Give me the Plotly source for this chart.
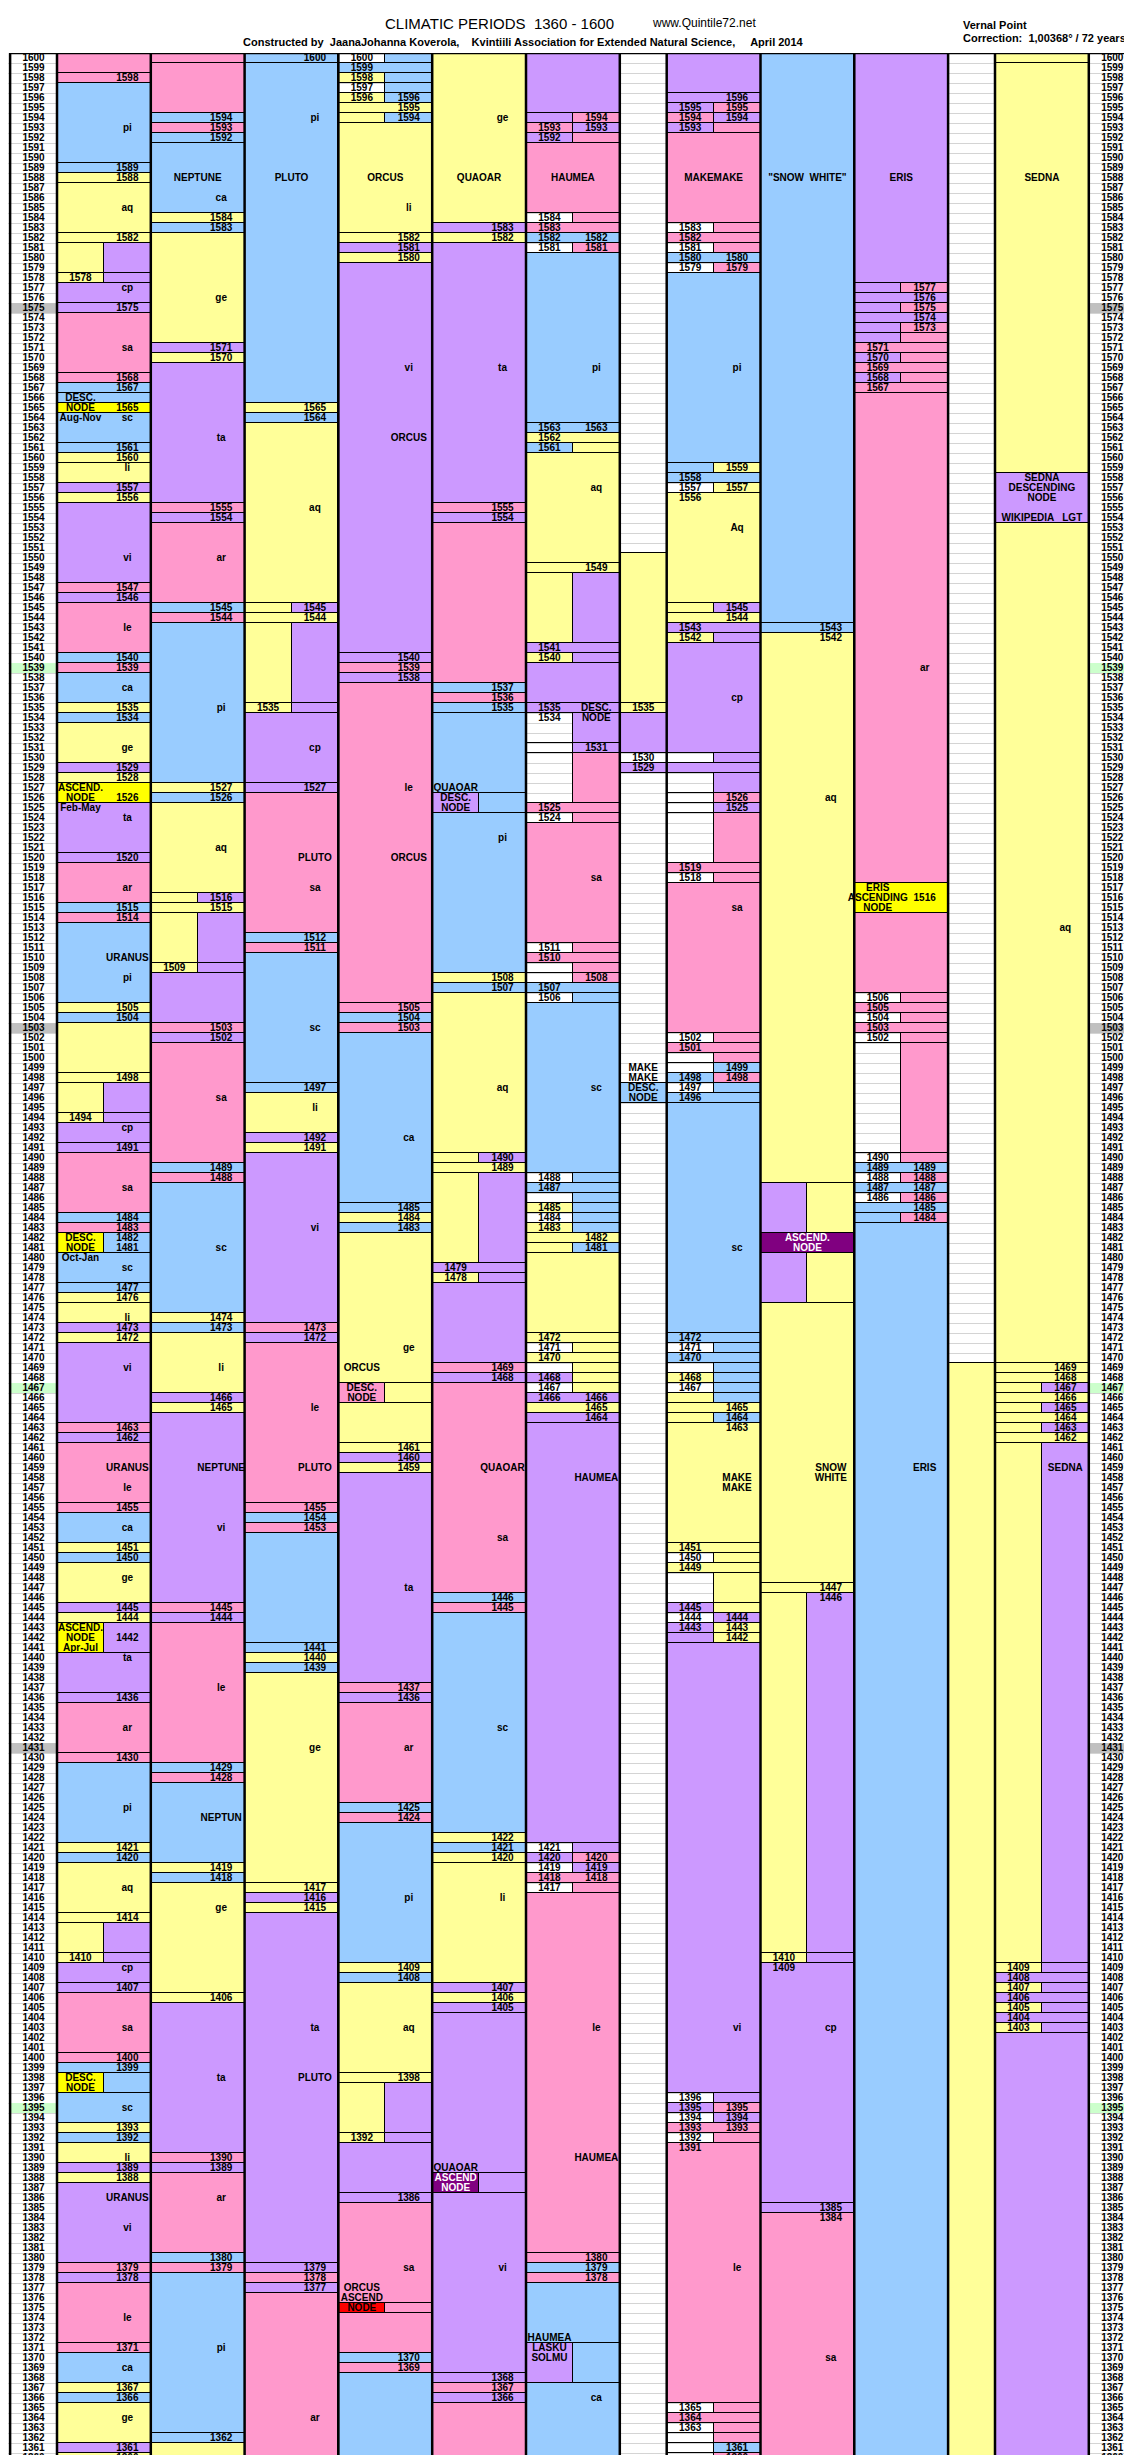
import plotly.graph_objects as go

# =========================
# COLOURS (sign element colours of the original sheet)
# =========================
FILL = {
    "P": "#FF99CC",  # fire
    "Y": "#FFFF99",  # air
    "B": "#99CCFF",  # water
    "V": "#CC99FF",  # earth
    "G": "#FFFF00",  # node box
    "M": "#800080",  # ascending node (dark)
    "R": "#FF0000",  # ascending node (red)
    "W": "rgba(0,0,0,0)",
}

YEARS = list(range(1360, 1601))
GREY_YEARS = [1575, 1503, 1431]
GREEN_YEARS = [1539, 1467, 1395]

# =========================
# DATA: runs (top year, colour left half + right half), going down in time
# =========================
URANUS = [
    (1600, "PP"), (1598, "PP"), (1597, "BB"), (1589, "BB"), (1588, "YY"), (1587, "YY"), (1582, "YY"), (1581, "YV"),
    (1578, "YV"), (1577, "VV"), (1575, "VV"), (1574, "PP"), (1568, "PP"), (1567, "BB"), (1566, "BB"), (1565, "GG"),
    (1564, "BB"), (1561, "BB"), (1560, "YY"), (1559, "YY"), (1557, "VV"), (1556, "YY"), (1555, "VV"), (1547, "PP"),
    (1546, "VV"), (1545, "PP"), (1540, "BB"), (1539, "PP"), (1538, "BB"), (1535, "YY"), (1534, "BB"), (1533, "YY"),
    (1529, "VV"), (1528, "YY"), (1527, "GG"), (1525, "VV"), (1520, "VV"), (1519, "PP"), (1515, "BB"), (1514, "PP"),
    (1513, "BB"), (1505, "YY"), (1504, "BB"), (1503, "YY"), (1498, "YY"), (1497, "YV"), (1494, "YV"), (1493, "VV"),
    (1491, "VV"), (1490, "PP"), (1484, "BB"), (1483, "PP"), (1482, "GB"), (1480, "BB"), (1477, "BB"), (1476, "YY"),
    (1475, "YY"), (1473, "VV"), (1472, "YY"), (1471, "VV"), (1463, "PP"), (1462, "VV"), (1461, "PP"), (1455, "PP"),
    (1454, "BB"), (1451, "YY"), (1450, "BB"), (1449, "YY"), (1445, "VV"), (1444, "YY"), (1443, "GV"), (1440, "VV"),
    (1436, "VV"), (1435, "PP"), (1430, "PP"), (1429, "BB"), (1421, "YY"), (1420, "BB"), (1419, "YY"), (1414, "YY"),
    (1413, "YV"), (1410, "YV"), (1409, "VV"), (1407, "VV"), (1406, "PP"), (1400, "PP"), (1399, "BB"), (1398, "GB"),
    (1396, "BB"), (1393, "YY"), (1392, "BB"), (1391, "YY"), (1389, "VV"), (1388, "YY"), (1387, "VV"), (1379, "PP"),
    (1378, "VV"), (1377, "PP"), (1371, "PP"), (1370, "BB"), (1367, "YY"), (1366, "BB"), (1365, "YY"), (1361, "VV"),
    (1360, "YY"),
]
URANUS_LABELS = ("1598R 1589R 1588R 1582R 1578L 1575R 1568R 1567R 1565R 1561R 1560R 1557R 1556R 1547R 1546R "
                 "1540R 1539R 1535R 1534R 1529R 1528R 1526R 1520R 1515R 1514R 1505R 1504R 1498R 1494L 1491R "
                 "1484R 1483R 1482R 1481R 1477R 1476R 1473R 1472R 1463R 1462R 1455R 1451R 1450R 1445R 1444R "
                 "1442R 1436R 1430R 1421R 1420R 1414R 1410L 1407R 1400R 1399R 1393R 1392R 1389R 1388R 1379R "
                 "1378R 1371R 1367R 1366R 1361R 1360R").split()
URANUS_TEXT = [
    (1593, "R", "pi"), (1585, "R", "aq"), (1577, "R", "cp"), (1571, "R", "sa"), (1566, "L", "DESC."),
    (1565, "L", "NODE"), (1564, "L", "Aug-Nov"), (1564, "R", "sc"), (1559, "R", "li"), (1550, "R", "vi"),
    (1543, "R", "le"), (1537, "R", "ca"), (1531, "R", "ge"), (1527, "L", "ASCEND."), (1526, "L", "NODE"),
    (1525, "L", "Feb-May"), (1524, "R", "ta"), (1517, "R", "ar"), (1510, "R", "URANUS"), (1508, "R", "pi"),
    (1493, "R", "cp"), (1487, "R", "sa"), (1482, "L", "DESC."), (1481, "L", "NODE"), (1480, "L", "Oct-Jan"),
    (1479, "R", "sc"), (1474, "R", "li"), (1469, "R", "vi"), (1459, "R", "URANUS"), (1457, "R", "le"),
    (1453, "R", "ca"), (1448, "R", "ge"), (1443, "L", "ASCEND."), (1442, "L", "NODE"), (1441, "L", "Apr-Jul"),
    (1440, "R", "ta"), (1433, "R", "ar"), (1425, "R", "pi"), (1417, "R", "aq"), (1409, "R", "cp"),
    (1403, "R", "sa"), (1398, "L", "DESC."), (1397, "L", "NODE"), (1395, "R", "sc"), (1390, "R", "li"),
    (1386, "R", "URANUS"), (1383, "R", "vi"), (1374, "R", "le"), (1369, "R", "ca"), (1364, "R", "ge"),
]

NEPTUNE = [
    (1600, "PP"), (1599, "PP"), (1594, "BB"), (1593, "PP"), (1592, "BB"), (1591, "BB"), (1584, "YY"), (1583, "BB"),
    (1582, "YY"), (1571, "VV"), (1570, "YY"), (1569, "VV"), (1555, "PP"), (1554, "VV"), (1553, "PP"), (1545, "BB"),
    (1544, "PP"), (1543, "BB"), (1527, "YY"), (1526, "BB"), (1525, "YY"), (1516, "YV"), (1515, "YY"), (1514, "YV"),
    (1509, "YV"), (1508, "VV"), (1503, "PP"), (1502, "VV"), (1501, "PP"), (1489, "BB"), (1488, "PP"), (1487, "BB"),
    (1474, "YY"), (1473, "BB"), (1472, "YY"), (1466, "VV"), (1465, "YY"), (1464, "VV"), (1445, "PP"), (1444, "VV"),
    (1443, "PP"), (1429, "BB"), (1428, "PP"), (1427, "BB"), (1419, "YY"), (1418, "BB"), (1417, "YY"), (1406, "YY"),
    (1405, "VV"), (1390, "PP"), (1389, "VV"), (1388, "PP"), (1380, "BB"), (1379, "PP"), (1378, "BB"), (1362, "BB"),
    (1361, "YY"),
]
NEPTUNE_LABELS = ("1594R 1593R 1592R 1584R 1583R 1571R 1570R 1555R 1554R 1545R 1544R 1527R 1526R 1516R 1515R "
                  "1509L 1503R 1502R 1489R 1488R 1474R 1473R 1466R 1465R 1445R 1444R 1429R 1428R 1419R 1418R "
                  "1406R 1390R 1389R 1380R 1379R 1362R").split()
NEPTUNE_TEXT = [
    (1588, "C", "NEPTUNE"), (1586, "R", "ca"), (1576, "R", "ge"), (1562, "R", "ta"), (1550, "R", "ar"),
    (1535, "R", "pi"), (1521, "R", "aq"), (1496, "R", "sa"), (1481, "R", "sc"), (1469, "R", "li"),
    (1459, "R", "NEPTUNE"), (1453, "R", "vi"), (1437, "R", "le"), (1424, "R", "NEPTUN"), (1415, "R", "ge"),
    (1398, "R", "ta"), (1386, "R", "ar"), (1371, "R", "pi"),
]

PLUTO = [
    (1600, "BB"), (1599, "BB"), (1565, "YY"), (1564, "BB"), (1563, "YY"), (1545, "YV"), (1544, "YY"), (1543, "YV"),
    (1535, "YV"), (1534, "VV"), (1527, "VV"), (1526, "PP"), (1512, "BB"), (1511, "PP"), (1510, "BB"), (1497, "BB"),
    (1496, "YY"), (1492, "VV"), (1491, "YY"), (1490, "VV"), (1473, "PP"), (1472, "VV"), (1471, "PP"), (1455, "PP"),
    (1454, "BB"), (1453, "PP"), (1452, "BB"), (1441, "BB"), (1440, "YY"), (1439, "BB"), (1438, "YY"), (1417, "YY"),
    (1416, "VV"), (1415, "YY"), (1414, "VV"), (1379, "VV"), (1378, "PP"), (1377, "VV"), (1376, "PP"),
]
PLUTO_LABELS = ("1600R 1565R 1564R 1545R 1544R 1535L 1527R 1512R 1511R 1497R 1492R 1491R 1473R 1472R 1455R "
                "1454R 1453R 1441R 1440R 1439R 1417R 1416R 1415R 1379R 1378R 1377R").split()
PLUTO_TEXT = [
    (1588, "C", "PLUTO"), (1594, "R", "pi"), (1555, "R", "aq"), (1531, "R", "cp"), (1520, "R", "PLUTO"),
    (1517, "R", "sa"), (1503, "R", "sc"), (1495, "R", "li"), (1483, "R", "vi"), (1465, "R", "le"),
    (1459, "R", "PLUTO"), (1431, "R", "ge"), (1403, "R", "ta"), (1398, "R", "PLUTO"), (1364, "R", "ar"),
]

ORCUS = [
    (1600, "WB"), (1599, "BB"), (1598, "YB"), (1597, "WB"), (1596, "YB"), (1595, "YY"), (1594, "YB"), (1593, "YY"),
    (1582, "YY"), (1581, "VV"), (1580, "YY"), (1579, "VV"), (1540, "VV"), (1539, "PP"), (1538, "VV"), (1537, "PP"),
    (1505, "PP"), (1504, "BB"), (1503, "PP"), (1502, "BB"), (1485, "BB"), (1484, "YY"), (1483, "BB"), (1482, "YY"),
    (1467, "PY"), (1465, "YY"), (1461, "YY"), (1460, "VV"), (1459, "YY"), (1458, "VV"), (1437, "PP"), (1436, "VV"),
    (1435, "PP"), (1425, "BB"), (1424, "PP"), (1423, "BB"), (1409, "YY"), (1408, "BB"), (1407, "YY"), (1398, "YY"),
    (1397, "YV"), (1392, "YV"), (1391, "VV"), (1386, "VV"), (1385, "PP"), (1375, "RP"), (1374, "PP"), (1370, "BB"),
    (1369, "PP"), (1368, "BB"),
]
ORCUS_LABELS = ("1600L 1599L 1598L 1597L 1596L 1596R 1595R 1594R 1582R 1581R 1580R 1540R 1539R 1538R 1505R "
                "1504R 1503R 1485R 1484R 1483R 1461R 1460R 1459R 1437R 1436R 1425R 1424R 1409R 1408R 1398R "
                "1392L 1386R 1370R 1369R").split()
ORCUS_TEXT = [
    (1588, "C", "ORCUS"), (1585, "R", "li"), (1569, "R", "vi"), (1562, "R", "ORCUS"), (1527, "R", "le"),
    (1520, "R", "ORCUS"), (1492, "R", "ca"), (1471, "R", "ge"), (1469, "L", "ORCUS"), (1467, "L", "DESC."),
    (1466, "L", "NODE"), (1447, "R", "ta"), (1431, "R", "ar"), (1416, "R", "pi"), (1403, "R", "aq"),
    (1379, "R", "sa"), (1377, "L", "ORCUS"), (1376, "L", "ASCEND"), (1375, "L", "NODE"),
]

QUAOAR = [
    (1600, "YY"), (1583, "VV"), (1582, "YY"), (1581, "VV"), (1555, "PP"), (1554, "VV"), (1553, "PP"), (1537, "BB"),
    (1536, "PP"), (1535, "BB"), (1534, "BB"), (1526, "VB"), (1524, "BB"), (1508, "YY"), (1507, "BB"), (1506, "YY"),
    (1490, "YV"), (1489, "YY"), (1488, "YV"), (1479, "VV"), (1478, "YV"), (1477, "VV"), (1469, "PP"), (1468, "VV"),
    (1467, "PP"), (1446, "BB"), (1445, "PP"), (1444, "BB"), (1422, "YY"), (1421, "BB"), (1420, "YY"), (1419, "YY"),
    (1407, "VV"), (1406, "YY"), (1405, "VV"), (1404, "VV"), (1388, "MV"), (1386, "VV"), (1368, "VV"), (1367, "PP"),
    (1366, "VV"), (1365, "PP"),
]
QUAOAR_LABELS = ("1583R 1582R 1555R 1554R 1537R 1536R 1535R 1508R 1507R 1490R 1489R 1479L 1478L 1469R 1468R "
                 "1446R 1445R 1422R 1421R 1420R 1407R 1406R 1405R 1368R 1367R 1366R").split()
QUAOAR_TEXT = [
    (1588, "C", "QUAOAR"), (1594, "R", "ge"), (1569, "R", "ta"), (1522, "R", "pi"), (1527, "L", "QUAOAR"),
    (1526, "L", "DESC."), (1525, "L", "NODE"), (1497, "R", "aq"), (1459, "R", "QUAOAR"), (1452, "R", "sa"),
    (1433, "R", "sc"), (1416, "R", "li"), (1389, "L", "QUAOAR"), (1388, "L", "ASCEND"), (1387, "L", "NODE"),
    (1379, "R", "vi"),
]

HAUMEA = [
    (1600, "VV"), (1594, "VP"), (1593, "PV"), (1592, "VP"), (1591, "PP"), (1584, "WP"), (1583, "PP"), (1582, "BB"),
    (1581, "WP"), (1580, "BB"), (1563, "BB"), (1562, "YY"), (1561, "BY"), (1560, "YY"), (1549, "YY"), (1548, "YV"),
    (1541, "VV"), (1540, "YV"), (1539, "VV"), (1535, "VV"), (1534, "WV"), (1531, "WV"), (1530, "WP"), (1525, "PP"),
    (1524, "WP"), (1523, "PP"), (1511, "WP"), (1510, "PP"), (1509, "WP"), (1508, "WP"), (1507, "BB"), (1506, "WB"),
    (1505, "BB"), (1488, "WB"), (1487, "BB"), (1486, "WB"), (1485, "YB"), (1484, "WB"), (1483, "YB"), (1482, "YY"),
    (1481, "YB"), (1480, "YY"), (1472, "YY"), (1471, "WY"), (1470, "YY"), (1469, "WY"), (1468, "VY"), (1467, "WY"),
    (1466, "VV"), (1465, "YY"), (1464, "VV"), (1463, "VV"), (1421, "WV"), (1420, "VP"), (1419, "WV"), (1418, "PP"),
    (1417, "WP"), (1416, "PP"), (1380, "PP"), (1379, "BB"), (1378, "PP"), (1377, "BB"), (1371, "VB"), (1367, "BB"),
]
HAUMEA_LABELS = ("1594R 1593L 1593R 1592L 1584L 1583L 1582L 1582R 1581L 1581R 1563L 1563R 1562L 1561L 1549R "
                 "1541L 1540L 1535L 1534L 1531R 1525L 1524L 1511L 1510L 1508R 1507L 1506L 1488L 1487L 1485L "
                 "1484L 1483L 1482R 1481R 1472L 1471L 1470L 1468L 1467L 1466L 1466R 1465R 1464R 1421L 1420L "
                 "1420R 1419L 1419R 1418L 1418R 1417L 1380R 1379R 1378R").split()
HAUMEA_TEXT = [
    (1588, "C", "HAUMEA"), (1569, "R", "pi"), (1557, "R", "aq"), (1535, "R", "DESC."), (1534, "R", "NODE"),
    (1518, "R", "sa"), (1497, "R", "sc"), (1458, "R", "HAUMEA"), (1403, "R", "le"), (1390, "R", "HAUMEA"),
    (1372, "L", "HAUMEA"), (1371, "L", "LASKU"), (1370, "L", "SOLMU"), (1366, "R", "ca"),
]

BLANK1 = [(1600, "W"), (1550, "Y"), (1535, "Y"), (1534, "V"), (1530, "W"), (1529, "V"), (1528, "W"),
          (1497, "B"), (1495, "W")]
BLANK1_LABELS = ["1535L", "1530L", "1529L"]
BLANK1_TEXT = [(1499, "L", "MAKE"), (1498, "L", "MAKE"), (1497, "L", "DESC."), (1496, "L", "NODE")]

MAKEMAKE = [
    (1600, "VV"), (1596, "VV"), (1595, "VP"), (1594, "PV"), (1593, "VP"), (1592, "PP"), (1583, "WP"), (1582, "PP"),
    (1581, "WP"), (1580, "BB"), (1579, "WP"), (1578, "BB"), (1559, "BY"), (1558, "BB"), (1557, "WY"), (1556, "YY"),
    (1545, "YV"), (1544, "YY"), (1543, "VV"), (1542, "YV"), (1541, "VV"), (1530, "WV"), (1529, "VV"), (1528, "WV"),
    (1526, "WP"), (1525, "WV"), (1524, "WP"), (1519, "PP"), (1518, "WP"), (1517, "PP"), (1502, "WP"), (1501, "PP"),
    (1500, "WP"), (1499, "WB"), (1498, "BP"), (1497, "WB"), (1496, "BB"), (1495, "BB"), (1472, "BB"), (1471, "WB"),
    (1470, "BB"), (1469, "WB"), (1468, "YB"), (1467, "WB"), (1466, "YB"), (1465, "YY"), (1464, "YB"), (1463, "YY"),
    (1451, "YY"), (1450, "WY"), (1449, "YY"), (1448, "WY"), (1445, "VY"), (1444, "WV"), (1443, "VY"), (1442, "VY"),
    (1441, "VV"), (1396, "WV"), (1395, "VP"), (1394, "WV"), (1393, "PP"), (1392, "WP"), (1391, "PP"), (1365, "WP"),
    (1364, "PP"), (1363, "WP"), (1362, "WP"), (1361, "WB"), (1360, "WP"),
]
MAKEMAKE_LABELS = ("1596R 1595L 1595R 1594L 1594R 1593L 1583L 1582L 1581L 1580L 1580R 1579L 1579R 1559R 1558L "
                   "1557L 1557R 1556L 1545R 1544R 1543L 1542L 1526R 1525R 1519L 1518L 1502L 1501L 1499R 1498L "
                   "1498R 1497L 1496L 1472L 1471L 1470L 1468L 1467L 1465R 1464R 1463R 1451L 1450L 1449L 1445L "
                   "1444L 1444R 1443L 1443R 1442R 1396L 1395L 1395R 1394L 1394R 1393L 1393R 1392L 1391L 1365L "
                   "1364L 1363L 1361R 1360R").split()
MAKEMAKE_TEXT = [
    (1588, "C", "MAKEMAKE"), (1569, "R", "pi"), (1553, "R", "Aq"), (1536, "R", "cp"), (1515, "R", "sa"),
    (1481, "R", "sc"), (1458, "R", "MAKE"), (1457, "R", "MAKE"), (1403, "R", "vi"), (1379, "R", "le"),
]

SNOW_WHITE = [
    (1600, "BB"), (1543, "BB"), (1542, "YY"), (1487, "VY"), (1482, "MM"), (1480, "VY"), (1475, "YY"),
    (1447, "YY"), (1446, "YV"), (1410, "YV"), (1409, "VV"), (1385, "VV"), (1384, "PP"),
]
SNOW_WHITE_LABELS = "1543R 1542R 1447R 1446R 1410L 1409L 1385R 1384R".split()
SNOW_WHITE_TEXT = [
    (1588, "C", "\"SNOW  WHITE\""), (1526, "R", "aq"), (1482, "C", "ASCEND."), (1481, "C", "NODE"),
    (1459, "R", "SNOW"), (1458, "R", "WHITE"), (1403, "R", "cp"), (1370, "R", "sa"),
]

ERIS = [
    (1600, "VV"), (1577, "VP"), (1576, "VV"), (1575, "VP"), (1574, "VV"), (1573, "VP"), (1572, "VP"), (1571, "PP"),
    (1570, "VP"), (1569, "PP"), (1568, "VP"), (1567, "PP"), (1566, "PP"), (1517, "GG"), (1514, "PP"), (1506, "WP"),
    (1505, "PP"), (1504, "WP"), (1503, "PP"), (1502, "WP"), (1501, "WP"), (1490, "WP"), (1489, "BB"), (1488, "WP"),
    (1487, "BB"), (1486, "WP"), (1485, "BB"), (1484, "BP"), (1483, "BB"),
]
ERIS_LABELS = ("1577R 1576R 1575R 1574R 1573R 1571L 1570L 1569L 1568L 1567L 1516R 1506L 1505L 1504L 1503L "
               "1502L 1490L 1489L 1489R 1488L 1488R 1487L 1487R 1486L 1486R 1485R 1484R").split()
ERIS_TEXT = [
    (1588, "C", "ERIS"), (1539, "R", "ar"), (1517, "L", "ERIS"), (1516, "L", "ASCENDING"), (1515, "L", "NODE"),
    (1459, "R", "ERIS"),
]

BLANK2 = [(1600, "W"), (1469, "Y")]

SEDNA = [
    (1600, "YY"), (1599, "YY"), (1558, "VV"), (1553, "YY"), (1469, "YY"), (1468, "YY"), (1467, "YV"), (1466, "YY"),
    (1465, "YV"), (1464, "YY"), (1463, "YV"), (1462, "YY"), (1461, "YV"), (1409, "YV"), (1408, "VV"), (1407, "YV"),
    (1406, "VV"), (1405, "YV"), (1404, "VV"), (1403, "YV"), (1402, "VV"),
]
SEDNA_LABELS = ("1469R 1468R 1467R 1466R 1465R 1464R 1463R 1462R 1409L 1408L 1407L 1406L 1405L 1404L "
                "1403L").split()
SEDNA_TEXT = [
    (1588, "C", "SEDNA"), (1558, "C", "SEDNA"), (1557, "C", "DESCENDING"), (1556, "C", "NODE"),
    (1554, "C", "WIKIPEDIA   LGT"), (1513, "R", "aq"), (1459, "R", "SEDNA"),
]

# column index of the left half of each block (half columns, each one unit wide)
BLOCKS = [
    (0, URANUS, URANUS_LABELS, URANUS_TEXT),
    (2, NEPTUNE, NEPTUNE_LABELS, NEPTUNE_TEXT),
    (4, PLUTO, PLUTO_LABELS, PLUTO_TEXT),
    (6, ORCUS, ORCUS_LABELS, ORCUS_TEXT),
    (8, QUAOAR, QUAOAR_LABELS, QUAOAR_TEXT),
    (10, HAUMEA, HAUMEA_LABELS, HAUMEA_TEXT),
    (12, BLANK1, BLANK1_LABELS, BLANK1_TEXT),
    (13, MAKEMAKE, MAKEMAKE_LABELS, MAKEMAKE_TEXT),
    (15, SNOW_WHITE, SNOW_WHITE_LABELS, SNOW_WHITE_TEXT),
    (17, ERIS, ERIS_LABELS, ERIS_TEXT),
    (19, BLANK2, [], []),
    (20, SEDNA, SEDNA_LABELS, SEDNA_TEXT),
]
SEPARATORS = [-1.5, -0.5, 1.5, 3.5, 5.5, 7.5, 9.5, 11.5, 12.5, 14.5, 16.5, 18.5, 19.5, 21.5, 22.5]

# =========================
# BUILD
# =========================
bars = {c: {"x": [], "w": [], "base": [], "h": []} for c in FILL}


def add_bar(code, x, w, bottom, top):
    b = bars[code]
    b["x"].append(x)
    b["w"].append(w)
    b["base"].append(bottom - 0.5)
    b["h"].append(top - bottom + 1)


lab_x, lab_y, lab_t = [], [], []
txt_x, txt_y, txt_t, txt_c = [], [], [], []

for col, runs, labels, texts in BLOCKS:
    for i, (top, code) in enumerate(runs):
        bottom = runs[i + 1][0] + 1 if i + 1 < len(runs) else 1360
        if len(code) == 1:
            add_bar(code, col, 1, bottom, top)
        elif code[0] == code[1]:
            add_bar(code[0], col + 0.5, 2, bottom, top)
        else:
            add_bar(code[0], col, 1, bottom, top)
            add_bar(code[1], col + 1, 1, bottom, top)
    for lab in labels:
        lab_x.append(col + (1 if lab[-1] == "R" else 0))
        lab_y.append(int(lab[:-1]))
        lab_t.append(lab[:-1])
    for year, pos, t in texts:
        txt_x.append({"L": col, "R": col + 1, "C": col + 0.5}[pos])
        txt_y.append(year)
        txt_t.append(t)
        txt_c.append("white" if t in ("ASCEND.", "ASCEND") and col in (8, 15) or
                     (t == "NODE" and col in (8, 15) and year in (1387, 1481)) else "black")

fig = go.Figure()

# year columns with highlight cells
for years, colr in ((GREY_YEARS, "#C0C0C0"), (GREEN_YEARS, "#CCFFCC")):
    fig.add_trace(go.Bar(x=[-1] * len(years) + [22] * len(years), y=[1] * (2 * len(years)),
                         base=[y - 0.5 for y in years] * 2, width=1, marker_color=colr,
                         marker_line_width=0, hoverinfo="skip"))

for code, b in bars.items():
    if not b["x"]:
        continue
    fig.add_trace(go.Bar(x=b["x"], y=b["h"], base=b["base"], width=b["w"],
                         marker=dict(color=FILL[code], line=dict(color="black", width=1)),
                         hoverinfo="skip"))

font = dict(family="Liberation Sans", size=10, color="black", weight="bold")
fig.add_trace(go.Scatter(x=[-1] * len(YEARS) + [22] * len(YEARS), y=YEARS * 2, mode="text",
                         text=[str(y) for y in YEARS] * 2, textfont=font, cliponaxis=False,
                         hoverinfo="skip"))
fig.add_trace(go.Scatter(x=lab_x, y=lab_y, mode="text", text=lab_t, textfont=font, cliponaxis=False,
                         hoverinfo="skip"))
fig.add_trace(go.Scatter(x=txt_x, y=txt_y, mode="text", text=txt_t, cliponaxis=False,
                         textfont=dict(family="Liberation Sans", size=10, color=txt_c, weight="bold"),
                         hoverinfo="skip"))

# thick column separators
sx, sy = [], []
for s in SEPARATORS:
    sx += [s, s, None]
    sy += [1359.5, 1600.5, None]
sx += [-1.5, 22.5, None]
sy += [1600.5, 1600.5, None]
fig.add_trace(go.Scatter(x=sx, y=sy, mode="lines", line=dict(color="black", width=2.5), hoverinfo="skip"))

W, H, TOP = 1132, 2455, 45
C0, CW = 72.45, 46.9


def py(p):
    return 1 + (TOP - p) / (H - TOP)


head = [
    (375, 15, "CLIMATIC PERIODS  1360 - 1600", 15),
    (642, 15, "www.Quintile72.net", 12),
    (233, 34, "<b>Constructed by  JaanaJohanna Koverola,    Kvintiili Association for Extended Natural Science,"
              "     April 2014</b>", 11),
    (953, 17, "<b>Vernal Point</b>", 11),
    (953, 30, "<b>Correction:  1,00368° / 72 years</b>", 11),
]
annotations = [dict(x=x / W, y=py(y), xref="paper", yref="paper", text=t, showarrow=False,
                    xanchor="left", yanchor="middle",
                    font=dict(family="Liberation Sans", size=s, color="black"))
               for x, y, t, s in head]

fig.update_layout(
    width=W, height=H, margin=dict(l=0, r=0, t=TOP, b=0),
    barmode="overlay", bargap=0, showlegend=False,
    plot_bgcolor="white", paper_bgcolor="white",
    xaxis=dict(range=[(0 - C0) / CW, (W - C0) / CW], visible=False, fixedrange=True),
    yaxis=dict(range=[1359.5, 1600.5], tickvals=[y + 0.5 for y in YEARS], showticklabels=False,
               showgrid=True, gridcolor="#d4d4d4", gridwidth=1, zeroline=False, fixedrange=True),
    annotations=annotations,
)

fig.write_html("out.html")
